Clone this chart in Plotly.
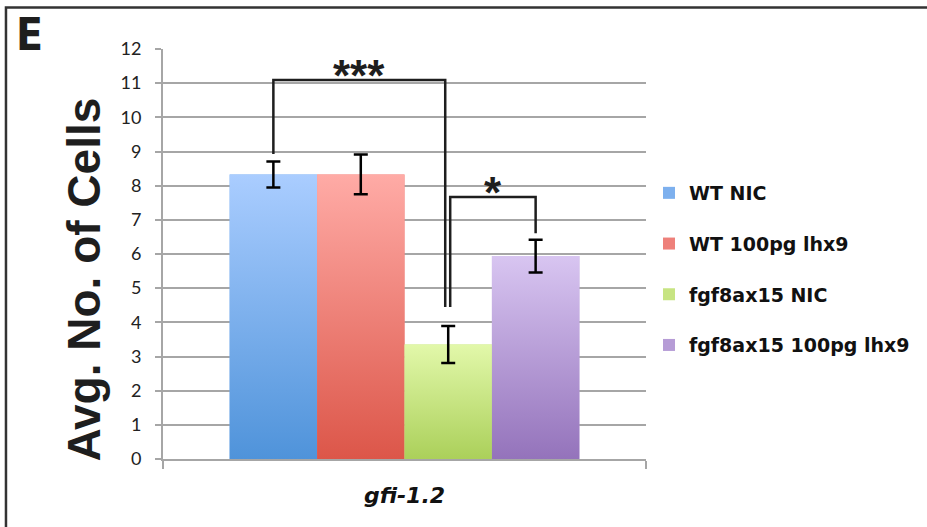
import plotly.graph_objects as go

# ---------------- data ----------------
categories = ["WT NIC", "WT 100pg lhx9", "fgf8ax15 NIC", "fgf8ax15 100pg lhx9"]
means = [8.33, 8.33, 3.35, 5.94]
errors = [0.38, 0.58, 0.54, 0.48]
gene_label = "gfi-1.2"
y_ticks = list(range(0, 13))
# significance brackets: (left bar idx, right bar idx, left leg bottom, right leg bottom, top, label)
brackets = [
    (0, 2, 8.93, 4.45, 11.09, "***"),
    (2, 3, 4.45, 6.61, 7.67, "*"),
]

# ---------------- style ----------------
top_colors = ["#aacdff", "#ffaba6", "#e2f8aa", "#d8c5f1"]
bottom_colors = ["#4f93da", "#dc5649", "#abd05a", "#9473bb"]
mid_colors = ["#7db0ee", "#ee807a", "#c7e482", "#b69cd6"]
grid_col = "#a6a6a6"
ink = "#1e1e1e"

W, H = 927, 527
PL, PR, PT, PB = 163, 649, 49, 459  # plot area in pixels
group_w = 0.724
bw = group_w / len(categories)


def px_x(px):
    return (px - PL) / (PR - PL)


def px_y(py):
    return (PB - py) / (PB - PT)


def left_of(i):
    return -group_w / 2 + i * bw


def center_of(i):
    return left_of(i) + bw / 2


fig = go.Figure()

# bars (legend + base fill)
for i, (c, v) in enumerate(zip(categories, means)):
    fig.add_trace(go.Bar(
        x=[0], y=[v], width=[bw], offset=[left_of(i)], name=c,
        marker=dict(color=mid_colors[i], line=dict(width=0)),
        legendgroup=c, showlegend=True,
    ))

# gradient overlays
for i, v in enumerate(means):
    l, r = left_of(i), left_of(i) + bw
    fig.add_trace(go.Scatter(
        x=[l, r, r, l, l], y=[0, 0, v, v, 0], mode="lines",
        line=dict(width=0), fill="toself",
        fillcolor=mid_colors[i],
        fillgradient=dict(type="vertical",
                          colorscale=[[0, bottom_colors[i]], [1, top_colors[i]]]),
        showlegend=False, hoverinfo="skip",
    ))

# error bars
for i, (v, e) in enumerate(zip(means, errors)):
    fig.add_trace(go.Scatter(
        x=[center_of(i)], y=[v], mode="markers",
        marker=dict(size=1, opacity=0),
        error_y=dict(type="data", array=[e], color="#000000", thickness=2.5, width=7),
        showlegend=False, hoverinfo="skip",
    ))

# significance brackets
for k, (a, b, ya, yb, yt, lab) in enumerate(brackets):
    xa = center_of(a) + (2 / (PR - PL) if k == 1 else 0)
    xb = center_of(b) + (-3 / (PR - PL) if k == 0 else 0)
    fig.add_shape(type="path", xref="x", yref="y",
                  path=f"M {xa},{ya} L {xa},{yt} L {xb},{yt} L {xb},{yb}",
                  line=dict(color=ink, width=2.5))
    fig.add_annotation(x=(xa + xb) / 2, y=yt, xref="x", yref="y", text=f"<b>{lab}</b>",
                       showarrow=False, yanchor="bottom", yshift=-22,
                       font=dict(family="Liberation Sans, Arial", size=44, color=ink))

# frame (top and left border of panel)
fig.add_shape(type="rect", xref="paper", yref="paper",
              x0=px_x(5), x1=px_x(940), y0=px_y(540), y1=px_y(7.5),
              line=dict(color="#333333", width=2.5), fillcolor="rgba(0,0,0,0)", layer="above")

# panel letter
fig.add_annotation(x=px_x(13), y=px_y(7), xref="paper", yref="paper", text="<b>E</b>",
                   showarrow=False, xanchor="left", yanchor="top",
                   font=dict(family="Liberation Sans Narrow, DejaVu Sans Condensed, Arial Narrow, Liberation Sans",
                             size=44, color=ink))

# y-axis title
fig.add_annotation(x=px_x(84), y=px_y(279), xref="paper", yref="paper",
                   xanchor="center", yanchor="middle",
                   text="<b>Avg. No. of Cells</b>", textangle=-90, showarrow=False,
                   font=dict(family="Liberation Sans, Arial", size=46, color=ink))

fig.update_layout(
    width=W, height=H,
    margin=dict(l=PL, r=W - PR, t=PT, b=H - PB, pad=0),
    paper_bgcolor="white", plot_bgcolor="white",
    barmode="overlay",
    showlegend=True,
    legend=dict(x=px_x(652), y=px_y(174), xanchor="left", yanchor="top",
                font=dict(family="DejaVu Sans", size=19, color="#111111", weight="bold"),
                tracegroupgap=23, traceorder="grouped", itemwidth=30,
                bgcolor="rgba(0,0,0,0)"),
    xaxis=dict(range=[-0.5, 0.5], tickvals=[-0.5, 0.5], ticktext=["", ""],
               ticks="outside", ticklen=8, tickwidth=2, tickcolor=grid_col,
               showline=True, linecolor=grid_col, linewidth=2,
               showgrid=False, zeroline=False,
               title=dict(text=f"<b><i>{gene_label}</i></b>", standoff=17,
                          font=dict(family="DejaVu Sans", size=22, color="#111111"))),
    yaxis=dict(range=[0, 12], tickvals=y_ticks, ticktext=[str(t) for t in y_ticks],
               ticks="outside", ticklen=6, tickwidth=2, tickcolor=grid_col,
               showline=True, linecolor=grid_col, linewidth=2,
               showgrid=True, gridcolor=grid_col, gridwidth=2, zeroline=False,
               ticklabelstandoff=10,
               tickfont=dict(family="Lato, Open Sans", size=18, color="#222222")),
)

fig.write_html("out.html", config={"displayModeBar": False},
               post_script="document.body.style.margin='0';")
